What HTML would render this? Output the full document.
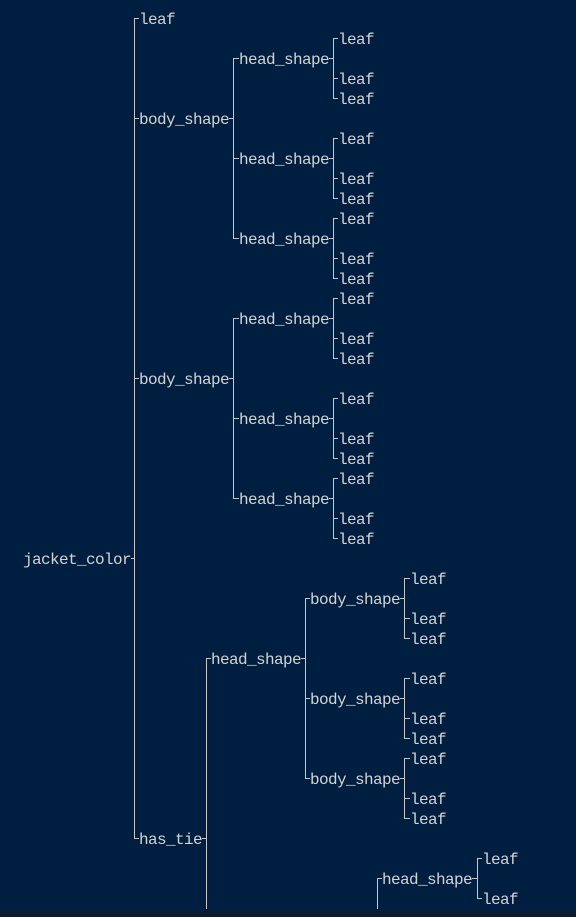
<!DOCTYPE html>
<html><head><meta charset="utf-8"><style>
html,body{margin:0;padding:0;background:#001e40;}
svg{display:block}
text{font-family:"Liberation Mono",monospace;font-size:16px;letter-spacing:-0.6px;fill:#d4d4d4;transform:translateY(1px);}
line{stroke:#c8c8c8;stroke-width:1;}
</style></head><body>
<svg width="576" height="917" xmlns="http://www.w3.org/2000/svg">
<rect x="0" y="0" width="576" height="917" fill="#001e40"/>
<rect x="0" y="911" width="576" height="6" fill="#0e1b2c"/>
<g>
<text x="23" y="563">jacket_color</text>
<line x1="131" y1="558.5" x2="134" y2="558.5"/>
<line x1="134.5" y1="18" x2="134.5" y2="839"/>
<line x1="134" y1="18.5" x2="139" y2="18.5"/>
<line x1="134" y1="118.5" x2="139" y2="118.5"/>
<line x1="134" y1="378.5" x2="139" y2="378.5"/>
<line x1="134" y1="838.5" x2="139" y2="838.5"/>
<text x="139" y="23">leaf</text>
<text x="139" y="123">body_shape</text>
<text x="139" y="383">body_shape</text>
<text x="139" y="843">has_tie</text>

<line x1="229" y1="118.5" x2="233" y2="118.5"/>
<line x1="233.5" y1="58" x2="233.5" y2="239"/>
<line x1="233" y1="58.5" x2="239" y2="58.5"/>
<line x1="233" y1="158.5" x2="239" y2="158.5"/>
<line x1="233" y1="238.5" x2="239" y2="238.5"/>
<text x="239" y="63">head_shape</text>
<text x="239" y="163">head_shape</text>
<text x="239" y="243">head_shape</text>
<line x1="229" y1="378.5" x2="233" y2="378.5"/>
<line x1="233.5" y1="318" x2="233.5" y2="499"/>
<line x1="233" y1="318.5" x2="239" y2="318.5"/>
<line x1="233" y1="418.5" x2="239" y2="418.5"/>
<line x1="233" y1="498.5" x2="239" y2="498.5"/>
<text x="239" y="323">head_shape</text>
<text x="239" y="423">head_shape</text>
<text x="239" y="503">head_shape</text>

<g>
<line x1="329" y1="58.5" x2="333" y2="58.5"/><line x1="333.5" y1="38" x2="333.5" y2="99"/>
<line x1="333" y1="38.5" x2="338" y2="38.5"/><line x1="333" y1="78.5" x2="338" y2="78.5"/><line x1="333" y1="98.5" x2="338" y2="98.5"/>
<text x="338" y="43">leaf</text><text x="338" y="83">leaf</text><text x="338" y="103">leaf</text>

<line x1="329" y1="158.5" x2="333" y2="158.5"/><line x1="333.5" y1="138" x2="333.5" y2="199"/>
<line x1="333" y1="138.5" x2="338" y2="138.5"/><line x1="333" y1="178.5" x2="338" y2="178.5"/><line x1="333" y1="198.5" x2="338" y2="198.5"/>
<text x="338" y="143">leaf</text><text x="338" y="183">leaf</text><text x="338" y="203">leaf</text>

<line x1="329" y1="238.5" x2="333" y2="238.5"/><line x1="333.5" y1="218" x2="333.5" y2="279"/>
<line x1="333" y1="218.5" x2="338" y2="218.5"/><line x1="333" y1="258.5" x2="338" y2="258.5"/><line x1="333" y1="278.5" x2="338" y2="278.5"/>
<text x="338" y="223">leaf</text><text x="338" y="263">leaf</text><text x="338" y="283">leaf</text>

<line x1="329" y1="318.5" x2="333" y2="318.5"/><line x1="333.5" y1="298" x2="333.5" y2="359"/>
<line x1="333" y1="298.5" x2="338" y2="298.5"/><line x1="333" y1="338.5" x2="338" y2="338.5"/><line x1="333" y1="358.5" x2="338" y2="358.5"/>
<text x="338" y="303">leaf</text><text x="338" y="343">leaf</text><text x="338" y="363">leaf</text>

<line x1="329" y1="418.5" x2="333" y2="418.5"/><line x1="333.5" y1="398" x2="333.5" y2="459"/>
<line x1="333" y1="398.5" x2="338" y2="398.5"/><line x1="333" y1="438.5" x2="338" y2="438.5"/><line x1="333" y1="458.5" x2="338" y2="458.5"/>
<text x="338" y="403">leaf</text><text x="338" y="443">leaf</text><text x="338" y="463">leaf</text>

<line x1="329" y1="498.5" x2="333" y2="498.5"/><line x1="333.5" y1="478" x2="333.5" y2="539"/>
<line x1="333" y1="478.5" x2="338" y2="478.5"/><line x1="333" y1="518.5" x2="338" y2="518.5"/><line x1="333" y1="538.5" x2="338" y2="538.5"/>
<text x="338" y="483">leaf</text><text x="338" y="523">leaf</text><text x="338" y="543">leaf</text>
</g>

<line x1="202" y1="838.5" x2="206" y2="838.5"/>
<line x1="206.5" y1="658" x2="206.5" y2="909"/>
<line x1="206" y1="658.5" x2="211" y2="658.5"/>
<text x="211" y="663">head_shape</text>
<line x1="301" y1="658.5" x2="305" y2="658.5"/>
<line x1="305.5" y1="598" x2="305.5" y2="779"/>
<line x1="305" y1="598.5" x2="310" y2="598.5"/>
<line x1="305" y1="698.5" x2="310" y2="698.5"/>
<line x1="305" y1="778.5" x2="310" y2="778.5"/>
<text x="310" y="603">body_shape</text>
<text x="310" y="703">body_shape</text>
<text x="310" y="783">body_shape</text>

<line x1="400" y1="598.5" x2="404" y2="598.5"/><line x1="404.5" y1="578" x2="404.5" y2="639"/>
<line x1="404" y1="578.5" x2="410" y2="578.5"/><line x1="404" y1="618.5" x2="410" y2="618.5"/><line x1="404" y1="638.5" x2="410" y2="638.5"/>
<text x="410" y="583">leaf</text><text x="410" y="623">leaf</text><text x="410" y="643">leaf</text>

<line x1="400" y1="698.5" x2="404" y2="698.5"/><line x1="404.5" y1="678" x2="404.5" y2="739"/>
<line x1="404" y1="678.5" x2="410" y2="678.5"/><line x1="404" y1="718.5" x2="410" y2="718.5"/><line x1="404" y1="738.5" x2="410" y2="738.5"/>
<text x="410" y="683">leaf</text><text x="410" y="723">leaf</text><text x="410" y="743">leaf</text>

<line x1="400" y1="778.5" x2="404" y2="778.5"/><line x1="404.5" y1="758" x2="404.5" y2="819"/>
<line x1="404" y1="758.5" x2="410" y2="758.5"/><line x1="404" y1="798.5" x2="410" y2="798.5"/><line x1="404" y1="818.5" x2="410" y2="818.5"/>
<text x="410" y="763">leaf</text><text x="410" y="803">leaf</text><text x="410" y="823">leaf</text>

<line x1="377.5" y1="878" x2="377.5" y2="909"/>
<line x1="377" y1="878.5" x2="382" y2="878.5"/>
<text x="382" y="883">head_shape</text>
<line x1="472" y1="878.5" x2="477" y2="878.5"/>
<line x1="477.5" y1="858" x2="477.5" y2="899"/>
<line x1="477" y1="858.5" x2="482" y2="858.5"/>
<line x1="477" y1="898.5" x2="482" y2="898.5"/>
<text x="482" y="863">leaf</text>
<text x="482" y="903">leaf</text>
</g>
</svg>
</body></html>
